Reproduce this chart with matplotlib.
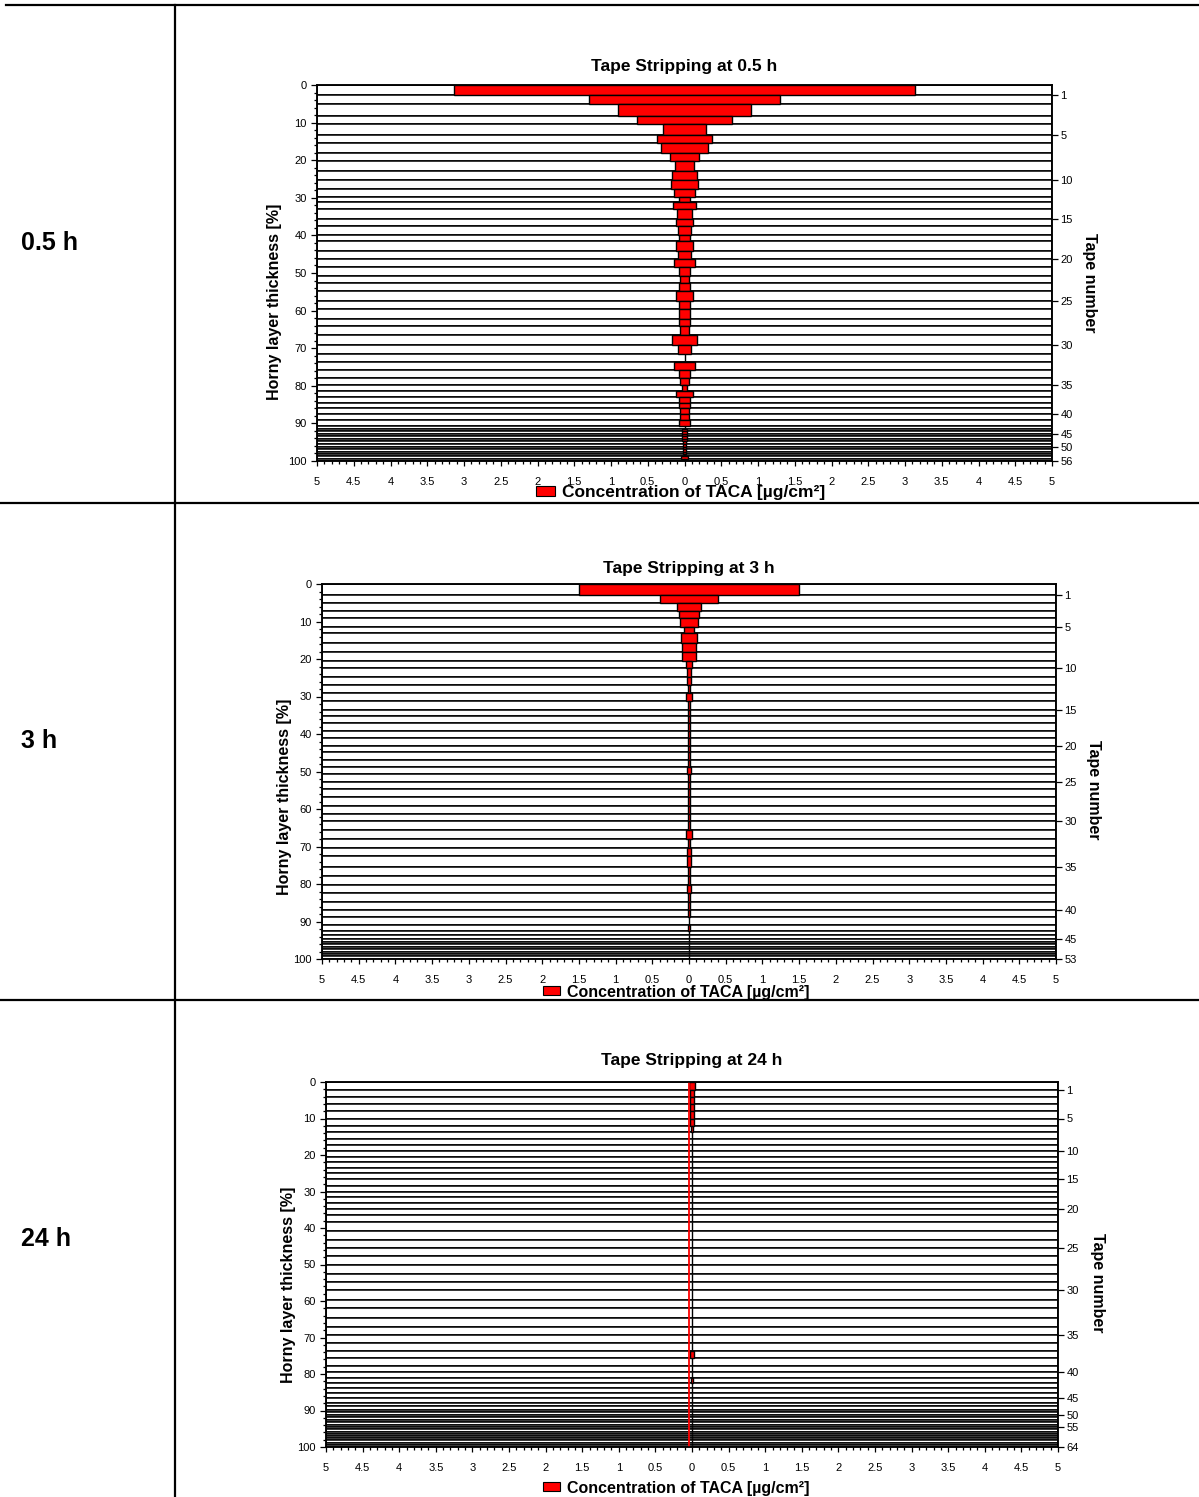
import matplotlib
matplotlib.use("Agg")
import matplotlib.pyplot as plt
from matplotlib.lines import Line2D
from matplotlib.patches import Patch
from matplotlib.ticker import FixedLocator, MultipleLocator, FuncFormatter

plt.rcParams["font.family"] = ["Liberation Sans", "DejaVu Sans"]

W, H = 1199, 1497

# cumulative horny layer thickness [%] at the end of each tape
bounds_05h = [2.6, 5.1, 8.2, 10.3, 13.4, 15.5, 18.1, 20.2, 22.8, 25.3,
              27.6, 29.7, 31.2, 33.0, 35.7, 37.4, 39.9, 41.6, 44.1, 46.3,
              48.4, 50.7, 52.7, 54.9, 57.5, 59.6, 62.2, 64.2, 66.4, 69.2,
              71.6, 73.6, 75.7, 77.8, 79.7, 81.5, 83.1, 84.6, 86.0, 87.4,
              89.0, 90.7, 91.4, 92.1, 92.8, 93.4, 94.1, 94.8, 95.5, 96.2,
              96.9, 97.5, 98.2, 98.8, 99.4, 100.0]
conc_05h = [3.14, 1.30, 0.90, 0.65, 0.29, 0.37, 0.32, 0.20, 0.13, 0.17,
            0.18, 0.14, 0.08, 0.15, 0.10, 0.11, 0.09, 0.07, 0.11, 0.09,
            0.14, 0.07, 0.06, 0.08, 0.11, 0.07, 0.07, 0.08, 0.06, 0.17,
            0.09, 0.0, 0.14, 0.08, 0.06, 0.04, 0.11, 0.07, 0.08, 0.06,
            0.06, 0.08, 0.0, 0.04, 0.04, 0.035, 0.035, 0.03, 0.025, 0.02,
            0.02, 0.015, 0.015, 0.01, 0.05, 0.01]

bounds_3h = [3.0, 5.1, 7.3, 9.1, 11.5, 13.0, 15.8, 18.1, 20.5, 22.5,
             24.8, 27.0, 29.1, 31.2, 33.5, 35.1, 37.1, 39.1, 41.0, 43.1,
             44.8, 47.0, 48.9, 50.7, 52.8, 54.6, 56.8, 59.2, 61.3, 63.2,
             65.5, 67.9, 70.4, 72.5, 75.4, 77.9, 80.3, 82.5, 84.9, 87.0,
             88.8, 90.8, 92.6, 93.6, 94.7, 95.4, 96.1, 96.8, 97.4, 98.0,
             98.7, 99.3, 100.0]
conc_3h = [1.50, 0.40, 0.17, 0.13, 0.12, 0.065, 0.11, 0.10, 0.09, 0.035,
           0.03, 0.03, 0.015, 0.045, 0.02, 0.02, 0.015, 0.015, 0.02, 0.02,
           0.015, 0.02, 0.02, 0.025, 0.02, 0.015, 0.015, 0.02, 0.02, 0.015,
           0.02, 0.045, 0.02, 0.03, 0.025, 0.02, 0.02, 0.025, 0.02, 0.02,
           0.02, 0.0, 0.02, 0.0, 0.0, 0.0, 0.0, 0.0, 0.0, 0.0,
           0.0, 0.0, 0.0]

bounds_24h = [2.1, 4.1, 6.1, 8.0, 10.0, 12.1, 13.8, 15.5, 17.3, 18.9,
              20.5, 21.8, 23.6, 25.0, 26.6, 28.4, 30.2, 31.6, 33.2, 34.7,
              36.5, 38.4, 40.8, 43.2, 45.5, 47.8, 50.0, 52.7, 54.7, 57.0,
              59.7, 62.0, 64.6, 67.0, 69.3, 71.4, 73.6, 75.7, 77.8, 79.5,
              81.1, 82.5, 83.9, 85.2, 86.7, 88.0, 88.9, 89.8, 90.5, 91.3,
              91.9, 92.6, 93.2, 93.9, 94.6, 95.2, 95.8, 96.4, 97.0, 97.6,
              98.2, 98.8, 99.4, 100.0]
conc_24h = [0.035, 0.03, 0.03, 0.03, 0.03, 0.03, 0.02, 0.0, 0.0, 0.0,
            0.0, 0.0, 0.0, 0.0, 0.0, 0.0, 0.0, 0.0, 0.0, 0.0,
            0.0, 0.0, 0.0, 0.0, 0.0, 0.0, 0.0, 0.0, 0.0, 0.0,
            0.0, 0.0, 0.0, 0.0, 0.0, 0.0, 0.0, 0.03, 0.0, 0.0,
            0.0, 0.02, 0.0, 0.0, 0.0, 0.0, 0.0, 0.0, 0.0, 0.0,
            0.0, 0.0, 0.0, 0.0, 0.0, 0.0, 0.0, 0.0, 0.0, 0.0,
            0.0, 0.0, 0.0, 0.0]
line_24h = -0.04

tape_ticks_05h = [1, 5, 10, 15, 20, 25, 30, 35, 40, 45, 50, 56]
tape_ticks_3h = [1, 5, 10, 15, 20, 25, 30, 35, 40, 45, 53]
tape_ticks_24h = [1, 5, 10, 15, 20, 25, 30, 35, 40, 45, 50, 55, 64]

row_labels = ["0.5 h", "3 h", "24 h"]
titles = ["Tape Stripping at 0.5 h", "Tape Stripping at 3 h", "Tape Stripping at 24 h"]
xlabel = "Concentration of TACA [µg/cm²]"


def fx(px):
    return px / W


def fy(py):
    return 1 - py / H


def draw_chart(fig, box, bounds, conc, tape_ticks, title, title_y, ylab_x, ylab_y,
               rlab_x, rlab_y, leg_xy, leg_size, vline=None):
    l, r, t, b = box
    ax = fig.add_axes([fx(l), fy(b), fx(r - l), (b - t) / H])
    starts = [0.0] + bounds[:-1]
    heights = [e - s for s, e in zip(starts, bounds)]
    ax.barh(starts, [10] * len(starts), left=-5, height=heights, align="edge",
            color="white", edgecolor="black", linewidth=1.1, zorder=2)
    widths = [2 * c for c in conc]
    lefts = [-c for c in conc]
    ax.barh(starts, widths, left=lefts, height=heights, align="edge",
            color="#ff0000", edgecolor="black", linewidth=1.0, zorder=3)
    if vline is not None:
        ax.axvline(vline, color="#ff0000", lw=1.3, zorder=5)
    ax.set_xlim(-5, 5)
    ax.set_ylim(100, 0)
    ax.xaxis.set_major_locator(MultipleLocator(0.5))
    ax.xaxis.set_minor_locator(MultipleLocator(0.1))
    ax.xaxis.set_major_formatter(FuncFormatter(lambda v, p: f"{abs(v):g}"))
    ax.yaxis.set_major_locator(MultipleLocator(10))
    ax.yaxis.set_minor_locator(MultipleLocator(2))
    ax.tick_params(axis="x", which="major", direction="out", length=3.5, width=0.9,
                   labelsize=8, pad=8)
    ax.tick_params(axis="x", which="minor", direction="out", length=2, width=0.9)
    ax.tick_params(axis="y", which="major", direction="out", length=4.5, width=0.9,
                   labelsize=8, pad=3)
    ax.tick_params(axis="y", which="minor", direction="out", length=2.5, width=0.9)
    for sp in ax.spines.values():
        sp.set_linewidth(1.1)

    ax2 = ax.twinx()
    ax2.set_ylim(100, 0)
    ax2.yaxis.set_major_locator(FixedLocator([bounds[n - 1] for n in tape_ticks]))
    ax2.set_yticklabels([str(n) for n in tape_ticks])
    ax2.tick_params(axis="y", direction="out", length=4, width=0.9, labelsize=8, pad=2)
    for sp in ax2.spines.values():
        sp.set_linewidth(1.1)

    fig.text(fx((l + r) / 2), fy(title_y), title, ha="center", va="center",
             fontsize=12.5, fontweight="bold")
    fig.text(fx(ylab_x), fy(ylab_y), "Horny layer thickness [%]", ha="center",
             va="center", rotation=90, fontsize=11.5, fontweight="bold")
    fig.text(fx(rlab_x), fy(rlab_y), "Tape number", ha="center", va="center",
             rotation=-90, fontsize=11.5, fontweight="bold")
    handle = Patch(facecolor="#ff0000", edgecolor="black", linewidth=0.8, label=xlabel)
    fig.legend(handles=[handle], loc="center", bbox_to_anchor=(fx(leg_xy[0]), fy(leg_xy[1])),
               bbox_transform=fig.transFigure, frameon=False,
               prop={"weight": "bold", "size": leg_size}, handlelength=1.05,
               handleheight=0.5, handletextpad=0.45, borderpad=0, borderaxespad=0)
    return ax


fig = plt.figure(figsize=(W / 100, H / 100), dpi=100)

# table grid
lw_tab = 1.6
fig.add_artist(Line2D([fx(6), fx(1199)], [fy(5), fy(5)], transform=fig.transFigure,
                      color="black", lw=lw_tab))
for yy in (503, 1000):
    fig.add_artist(Line2D([0, 1], [fy(yy), fy(yy)], transform=fig.transFigure,
                          color="black", lw=lw_tab))
fig.add_artist(Line2D([fx(175), fx(175)], [fy(5), 0], transform=fig.transFigure,
                      color="black", lw=lw_tab))

for label, yy in zip(row_labels, (243, 741, 1239)):
    fig.text(fx(21), fy(yy), label, ha="left", va="center", fontsize=18, fontweight="bold")

draw_chart(fig, (317, 1052, 85, 461), bounds_05h, conc_05h, tape_ticks_05h, titles[0],
           66, 275, 302, 1090, 283, (681, 493), 12.5)
draw_chart(fig, (322, 1056, 584, 959), bounds_3h, conc_3h, tape_ticks_3h, titles[1],
           569, 285, 797, 1093, 790, (676, 992), 11.5)
draw_chart(fig, (326, 1058, 1082, 1447), bounds_24h, conc_24h, tape_ticks_24h, titles[2],
           1060, 289, 1285, 1097, 1283, (676, 1488), 11.5, vline=line_24h)

fig.savefig("out.png", dpi=100)
